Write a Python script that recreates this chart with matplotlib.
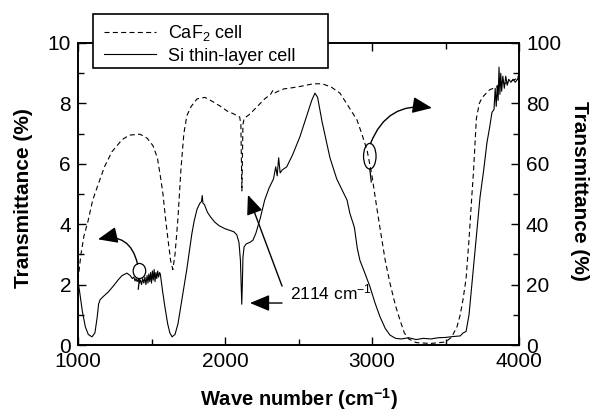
import numpy as np
import matplotlib
matplotlib.use('Agg')
import matplotlib.pyplot as plt
from matplotlib.patches import Ellipse, Rectangle
from matplotlib.ticker import MultipleLocator

plt.rcParams['font.family'] = ['Liberation Sans', 'DejaVu Sans']
plt.rcParams['mathtext.default'] = 'regular'

# Si thin-layer cell (left axis, %)
si_wn = [1000, 1010, 1030, 1050, 1070, 1095, 1115, 1130, 1140, 1150, 1175, 1205, 1240, 1272,
         1300, 1333, 1355, 1370, 1380, 1388, 1395, 1402, 1410, 1418, 1425, 1432, 1440, 1448,
         1455, 1462, 1470, 1476, 1482, 1488, 1494, 1500, 1506, 1512, 1518, 1524, 1530, 1536,
         1542, 1548, 1555, 1560, 1575, 1590, 1610, 1625, 1640, 1660, 1680, 1700, 1720, 1740,
         1760, 1775, 1790, 1810, 1830, 1840, 1845, 1850, 1860, 1880, 1900, 1930, 1960, 2000,
         2030, 2060, 2080, 2095, 2105, 2110, 2114, 2118, 2122, 2130, 2145, 2170, 2190, 2210,
         2240, 2270, 2300, 2330, 2345, 2355, 2365, 2375, 2390, 2420, 2460, 2510, 2550, 2590,
         2612, 2630, 2660, 2714, 2760, 2800, 2830, 2850, 2880, 2900, 2918, 2950, 2986, 3020,
         3054, 3090, 3122, 3160, 3200, 3250, 3300, 3350, 3400, 3450, 3500, 3550, 3600, 3620,
         3640, 3660, 3675, 3687, 3710, 3735, 3760, 3782, 3800, 3816, 3830, 3838, 3845, 3852,
         3858, 3864, 3870, 3876, 3882, 3890, 3900, 3910, 3920, 3930, 3945, 3960, 3975, 3990, 4000]
si_T = [2.1, 1.8, 1.1, 0.6, 0.35, 0.27, 0.4, 0.9, 1.35, 1.5, 1.62, 1.75, 1.95, 2.15,
        2.3, 2.38, 2.3, 2.2, 2.25, 2.12, 2.2, 2.1, 2.18, 2.05, 2.15, 2.0, 2.2, 2.05,
        2.25, 2.0, 2.3, 2.05, 2.35, 2.1, 2.4, 2.05, 2.45, 2.15, 2.5, 2.1, 2.4, 2.2,
        2.45, 2.25, 2.4, 2.35, 1.8, 1.3, 0.7, 0.4, 0.27, 0.35, 0.7, 1.3, 1.9, 2.5,
        3.2, 3.7, 4.1, 4.5, 4.7, 4.75, 4.95, 4.7, 4.65, 4.4, 4.25, 4.07, 3.95, 3.85,
        3.8, 3.75, 3.65, 3.4, 2.8, 2.0, 1.35, 2.0, 2.9, 3.25, 3.35, 3.4, 3.47, 3.7,
        4.2, 4.8, 5.2, 5.5, 5.9, 5.6, 6.2, 5.7, 5.8, 5.9, 6.3, 6.9, 7.5, 8.1,
        8.34, 8.2, 7.4, 6.2, 5.5, 5.1, 4.8, 4.35, 3.9, 3.2, 2.8, 2.4, 1.93, 1.4,
        0.94, 0.55, 0.33, 0.22, 0.2, 0.24, 0.18, 0.22, 0.2, 0.24, 0.25, 0.28, 0.3, 0.4,
        0.45, 1.0, 1.8, 2.4, 3.6, 4.9, 5.8, 6.7, 7.2, 7.7, 7.8, 8.5, 7.9, 8.6,
        8.1, 9.2, 8.3, 9.0, 8.4, 8.9, 8.5, 8.9, 8.6, 8.8, 8.7, 8.8, 8.7, 8.8, 9.0]

# CaF2 cell (right axis, %)
caf_wn = [1000, 1020, 1040, 1068, 1100, 1136, 1180, 1231, 1300, 1350, 1422, 1470, 1510, 1540,
          1560, 1578, 1595, 1612, 1630, 1645, 1660, 1680, 1700, 1720, 1741, 1770, 1810, 1864,
          1920, 1970, 2014, 2060, 2100, 2108, 2112, 2115, 2118, 2122, 2130, 2170, 2220, 2270,
          2310, 2327, 2340, 2360, 2400, 2460, 2520, 2600, 2660, 2720, 2782, 2840, 2898, 2930,
          2966, 3000, 3034, 3060, 3090, 3122, 3160, 3190, 3220, 3250, 3300, 3400, 3500, 3540,
          3578, 3600, 3619, 3640, 3660, 3680, 3690, 3710, 3730, 3750, 3800, 3850, 3900, 3950, 4000]
caf_T = [21.5, 30, 36, 41, 48, 53, 59, 64, 68, 69.5, 69.8, 68.5, 66, 62,
         56, 50, 42, 35, 28, 25, 30, 42, 58, 70, 76, 79, 81.5, 82,
         80.5, 79, 77.5, 76.5, 75.5, 73, 60, 51, 60, 73, 75, 76.5, 79, 81.5,
         83, 84.4, 83.5, 84, 84.8, 85.2, 85.7, 86.5, 86.5, 85.5, 83.4, 79, 74.5, 70,
         64.6, 56, 45, 37, 28, 20.5, 13, 8.3, 4, 2, 0.8, 0.5, 1, 2.5,
         6, 10, 15, 22, 35, 50, 57, 75, 80, 82, 84.5, 85.5, 86.5, 87.5, 88.5]

W, H = 590, 411
fig = plt.figure(figsize=(W / 100, H / 100), dpi=100)
ax = fig.add_axes([78 / W, 1 - 345 / H, 441 / W, 302 / H])
ax2 = ax.twinx()

l_caf, = ax2.plot(caf_wn, caf_T, color='black', lw=0.8, ls=(0, (4.5, 3)))
l_si, = ax.plot(si_wn, si_T, color='black', lw=0.8)

ax.set_xlim(1000, 4000)
ax.set_ylim(0, 10)
ax2.set_ylim(0, 100)

ax.xaxis.set_major_locator(MultipleLocator(1000))
ax.xaxis.set_minor_locator(MultipleLocator(500))
ax.yaxis.set_major_locator(MultipleLocator(2))
ax.yaxis.set_minor_locator(MultipleLocator(1))
ax2.yaxis.set_major_locator(MultipleLocator(20))
ax2.yaxis.set_minor_locator(MultipleLocator(10))

ax.tick_params(axis='x', which='both', direction='in', top=True, labelsize=15, pad=5)
ax.tick_params(axis='y', which='both', direction='in', labelsize=15, pad=5)
ax2.tick_params(axis='y', which='both', direction='in', labelsize=15, pad=5)
for a in (ax, ax2):
    a.tick_params(which='major', length=6, width=1)
    a.tick_params(which='minor', length=4, width=1)
    for s in a.spines.values():
        s.set_linewidth(1.2)

ax.set_xlabel('Wave number (cm$^{-1}$)', fontsize=14.5, fontweight='bold')
ax.xaxis.set_label_coords(0.5, -(399 - 345) / 302)
ax.xaxis.label.set_va('center')
ax.set_ylabel('Transmittance (%)', fontsize=15, fontweight='bold')
ax.yaxis.set_label_coords(-(78 - 24) / 441, 0.485)
ax.yaxis.label.set_va('center')
ax2.set_ylabel('Transmittance (%)', fontsize=15, fontweight='bold', rotation=-90)
ax2.yaxis.set_label_coords(1 + (580 - 519) / 441, 0.51)
ax2.yaxis.label.set_va('center')

# legend: drawn without its own frame, box added in figure pixels
fig.patches.append(Rectangle((93 / W, 1 - 68 / H), 235 / W, 54 / H, transform=fig.transFigure,
                             facecolor='white', edgecolor='black', lw=1.2, zorder=5))
leg = fig.legend([l_caf, l_si], ['CaF$_2$ cell', 'Si thin-layer cell'], loc='upper left',
                 bbox_to_anchor=(104 / W, 1 - 23 / H), borderaxespad=0, fontsize=13,
                 handlelength=2.9, handletextpad=0.65, frameon=False,
                 borderpad=0, labelspacing=0.25)
leg.set_zorder(6)

arrow = dict(arrowstyle='-|>,head_length=0.6,head_width=0.25', color='black', lw=1.0,
             shrinkA=0, shrinkB=0, mutation_scale=20)

# loop + arrow pointing to left axis
ax.add_patch(Ellipse((1418, 2.45), 85, 0.5, fill=False, lw=0.9, color='black'))
ax.plot([1418, 1410], [2.2, 1.85], color='black', lw=0.9)
ax.annotate('', xy=(1136, 3.5), xytext=(1405, 2.68),
            arrowprops=dict(arrow, connectionstyle='arc3,rad=0.5'))

# loop + arrow pointing to right axis
ax2.add_patch(Ellipse((2985, 62.5), 85, 8.5, fill=False, lw=0.9, color='black'))
ax2.plot([2985, 2995], [58.3, 54], color='black', lw=0.9)
ax2.annotate('', xy=(3408, 78.5), xytext=(2990, 66.7),
             arrowprops=dict(arrow, connectionstyle='arc3,rad=-0.4'))

# 2114 cm-1 label
ax.text(2440, 1.75, '2114 cm$^{-1}$', fontsize=12.5, va='center', ha='left')
ax.annotate('', xy=(2156, 4.97), xytext=(2388, 1.95), arrowprops=arrow)
ax.annotate('', xy=(2170, 1.39), xytext=(2388, 1.39), arrowprops=arrow)

fig.savefig('out.png', dpi=100)
